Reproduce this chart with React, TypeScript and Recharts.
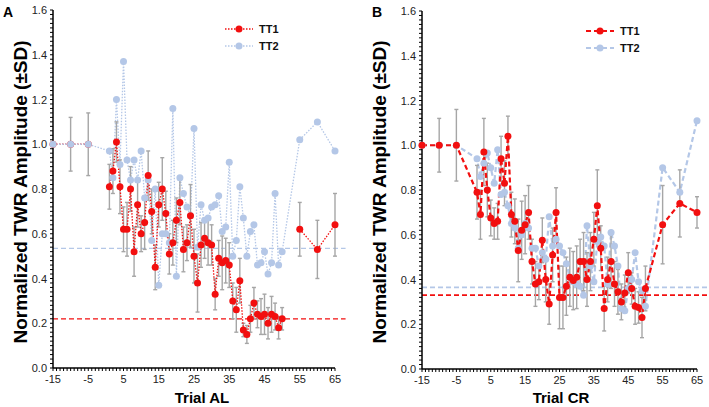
import React from 'react';
import { LineChart, Line, XAxis, YAxis, ErrorBar, ReferenceLine } from 'recharts';

const FONT = '"Liberation Sans", Arial, Helvetica, sans-serif';
const RED = '#f20f0f';
const BLUE = '#b4c7e7';
const BAR = '#a6a6a6';

// trial numbers (shared by both panels)
const trials = [
  -15, -10, -5,
  1, 2, 3, 4, 5, 6, 7, 8, 9, 10,
  11, 12, 13, 14, 15, 16, 17, 18, 19, 20,
  21, 22, 23, 24, 25, 26, 27, 28, 29, 30,
  31, 32, 33, 34, 35, 36, 37, 38, 39, 40,
  41, 42, 43, 44, 45, 46, 47, 48, 49, 50,
  55, 60, 65,
];

// panel A - trial AL
const alTT1 = [
  1.0, 1.0, 1.0,
  0.81, 0.88, 1.01, 0.81, 0.62, 0.62, 0.80, 0.52, 0.73, 0.60,
  0.65, 0.86, 0.70, 0.45, 0.73, 0.80, 0.69, 0.51, 0.56, 0.66,
  0.74, 0.53, 0.56, 0.68, 0.50, 0.38, 0.55, 0.58, 0.56, 0.55,
  0.33, 0.49, 0.47, 0.48, 0.46, 0.30, 0.26, 0.39, 0.17, 0.15,
  0.22, 0.29, 0.24, 0.23, 0.24, 0.20, 0.24, 0.23, 0.18, 0.22,
  0.62, 0.53, 0.64,
];
const alSD1 = [
  0, 0.12, 0.14,
  0.10, 0.10, 0.09, 0.12, 0.10, 0.12, 0.10, 0.11, 0.10, 0.08,
  0.12, 0.11, 0.10, 0.10, 0.10, 0.14, 0.10, 0.09, 0.10, 0.10,
  0.10, 0.10, 0.08, 0.14, 0.12, 0.13, 0.10, 0.09, 0.10, 0.09,
  0.07, 0.08, 0.12, 0.10, 0.10, 0.08, 0.10, 0.10, 0.03, 0.04,
  0.06, 0.07, 0.06, 0.08, 0.09, 0.07, 0.08, 0.06, 0.05, 0.05,
  0.12, 0.13, 0.14,
];
const alTT2 = [
  1.0, 1.0, 1.0,
  0.97, 0.85, 1.20, 0.91, 1.37, 0.93, 0.84, 0.93, 0.84, 0.97,
  0.76, 0.84, 0.57, 0.80, 0.37, 0.60, 0.60, 0.56, 1.16, 0.41,
  0.85, 0.78, 0.72, 0.68, 1.07, 0.54, 0.73, 0.66, 0.67, 0.72,
  0.73, 0.77, 0.61, 0.63, 0.92, 0.50, 0.57, 0.81, 0.67, 0.50,
  0.61, 0.64, 0.46, 0.47, 0.52, 0.42, 0.47, 0.78, 0.46, 0.52,
  1.02, 1.10, 0.97,
];
// TT1 line is broken before trial 1 and before trial 55 in panel A
const alTT1Breaks = [3, 53];
const alBaseTT1 = 0.22;
const alBaseTT2 = 0.535;

// panel B - trial CR
const crTT1 = [
  1.0, 1.0, 1.0,
  0.79, 0.69, 0.97, 0.80, 0.675, 0.65, 0.66, 0.94, 0.83, 1.04,
  0.69, 0.66, 0.53, 0.62, 0.645, 0.70, 0.48, 0.38, 0.39, 0.575,
  0.40, 0.29, 0.51, 0.70, 0.32, 0.32, 0.37, 0.41, 0.395, 0.41,
  0.48, 0.48, 0.40, 0.48, 0.58, 0.73, 0.54, 0.27, 0.40, 0.48,
  0.38, 0.345, 0.30, 0.34, 0.43, 0.36, 0.28, 0.275, 0.23, 0.36,
  0.645, 0.74, 0.70,
];
const crSD1 = [
  0, 0.12, 0.16,
  0.12, 0.11, 0.15, 0.12, 0.08, 0.07, 0.08, 0.10, 0.10, 0.09,
  0.10, 0.10, 0.14, 0.13, 0.13, 0.12, 0.10, 0.10, 0.08, 0.10,
  0.10, 0.09, 0.12, 0.11, 0.14, 0.14, 0.13, 0.13, 0.13, 0.14,
  0.10, 0.13, 0.12, 0.13, 0.12, 0.16, 0.10, 0.10, 0.10, 0.12,
  0.10, 0.10, 0.08, 0.08, 0.09, 0.07, 0.08, 0.07, 0.09, 0.10,
  0.175, 0.15, 0.07,
];
const crTT2 = [
  1.0, 1.0, 1.0,
  0.94, 0.86, 0.92, 0.965, 0.90, 0.83, 0.98, 0.78, 0.79, 0.73,
  0.65, 0.63, 0.54, 0.60, 0.65, 0.63, 0.54, 0.54, 0.46, 0.52,
  0.49, 0.68, 0.55, 0.58, 0.55, 0.52, 0.47, 0.41, 0.39, 0.38,
  0.37, 0.33, 0.64, 0.46, 0.39, 0.57, 0.59, 0.55, 0.38, 0.61,
  0.55, 0.46, 0.27, 0.26, 0.36, 0.40, 0.52, 0.39, 0.35, 0.28,
  0.90, 0.79, 1.11,
];
const crTT1Breaks: number[] = [];
const crBaseTT1 = 0.33;
const crBaseTT2 = 0.365;

const xMajor = [-15, -5, 5, 15, 25, 35, 45, 55, 65];
const yMajor = ['0.0', '0.2', '0.4', '0.6', '0.8', '1.0', '1.2', '1.4', '1.6'];

// minor ticks: every trial on x, every 0.02 on y
const xTicks: number[] = [];
for (let t = -15; t <= 65; t++) xTicks.push(t);
const yTicks: number[] = [];
for (let i = 0; i <= 80; i++) yTicks.push(Math.round(i * 2) / 100);

function XTick(props: any) {
  const { x, y, payload } = props;
  if (!xMajor.includes(payload.value)) return <g />;
  return (
    <text x={x} y={y + 10} textAnchor="middle" fontSize={11} fill="#222" fontFamily={FONT}>
      {payload.value}
    </text>
  );
}

function YTick(props: any) {
  const { x, y, payload } = props;
  const label = payload.value.toFixed(1);
  if (Math.round(payload.value * 100) % 20 !== 0 || !yMajor.includes(label)) return <g />;
  return (
    <text x={x - 1} y={y + 4} textAnchor="end" fontSize={11} fill="#222" fontFamily={FONT}>
      {label}
    </text>
  );
}

interface PanelProps {
  t1: number[];
  t2: number[];
  sd: number[];
  breaks: number[];
  base1: number;
  base2: number;
  style: 'dotted' | 'dashed';
  width: number;
  axisW: number;
  right: number;
  top: number;
  bottomH: number;
  lineEnd: number;
}

function Panel({ t1, t2, sd, breaks, base1, base2, style, width, axisW, right, top, bottomH, lineEnd }: PanelProps) {
  const nSeg = breaks.length + 1;
  const data = trials.map((trial, i) => {
    const seg = breaks.filter((b) => i >= b).length;
    const row: Record<string, number | null> = { trial, tt2: t2[i] };
    for (let s = 0; s < nSeg; s++) {
      row[`r${s}`] = s === seg ? t1[i] : null;
      row[`e${s}`] = s === seg ? sd[i] : null;
    }
    return row;
  });
  const segs = Array.from({ length: nSeg }, (_, s) => s);
  const dash = style === 'dotted' ? '1.5 1.5' : '5 3';
  const sw = style === 'dotted' ? 1.3 : 2.2;
  const baseW = style === 'dotted' ? 1.2 : 1.6;

  const redLine = (s: number) => (
    <Line
      key={`r${s}`}
      dataKey={`r${s}`}
      stroke={RED}
      strokeWidth={sw}
      strokeDasharray={dash}
      dot={{ r: 3.5, fill: RED, stroke: 'none' }}
      activeDot={false}
      isAnimationActive={false}
    >
      <ErrorBar dataKey={`e${s}`} direction="y" width={2} stroke={BAR} strokeWidth={1.4} isAnimationActive={false} />
    </Line>
  );

  return (
    <LineChart width={width} height={407} data={data} margin={{ top, right, left: 0, bottom: 0 }}>
      <XAxis
        dataKey="trial"
        type="number"
        domain={[-15, 65]}
        ticks={xTicks}
        interval={0}
        tickSize={3}
        height={bottomH}
        axisLine={{ stroke: '#000', strokeWidth: 1.5 }}
        tickLine={{ stroke: '#000' }}
        tick={XTick}
      />
      <YAxis
        type="number"
        domain={[0, 1.6]}
        ticks={yTicks}
        interval={0}
        tickSize={3}
        width={axisW}
        axisLine={{ stroke: '#000', strokeWidth: 1.5 }}
        tickLine={{ stroke: '#000' }}
        tick={YTick}
      />
      <ReferenceLine
        segment={[{ x: -15, y: base2 }, { x: lineEnd, y: base2 }]}
        stroke={BLUE}
        strokeWidth={baseW}
        strokeDasharray="5 3"
        ifOverflow="visible"
      />
      <ReferenceLine
        segment={[{ x: -15, y: base1 }, { x: lineEnd, y: base1 }]}
        stroke={RED}
        strokeWidth={baseW}
        strokeDasharray="5 3"
        ifOverflow="visible"
      />
      {nSeg > 1 && redLine(0)}
      <Line
        dataKey="tt2"
        stroke={BLUE}
        strokeWidth={sw}
        strokeDasharray={dash}
        dot={{ r: 3.5, fill: BLUE, stroke: 'none' }}
        activeDot={false}
        isAnimationActive={false}
      />
      {segs.filter((s) => nSeg === 1 || s > 0).map((s) => redLine(s))}
    </LineChart>
  );
}

function LegendKey({ left, top, style }: { left: number; top: number; style: 'dotted' | 'dashed' }) {
  const dash = style === 'dotted' ? '1.5 1.5' : '5 3';
  const sw = style === 'dotted' ? 1.3 : 2.2;
  const rows = [
    { name: 'TT1', color: RED },
    { name: 'TT2', color: BLUE },
  ];
  return (
    <div style={{ position: 'absolute', left, top }}>
      {rows.map((r) => (
        <div key={r.name} style={{ display: 'flex', alignItems: 'center', height: 17 }}>
          <svg width={28} height={10}>
            <line x1={0} y1={5} x2={28} y2={5} stroke={r.color} strokeWidth={sw} strokeDasharray={dash} />
            <circle cx={14} cy={5} r={3.5} fill={r.color} />
          </svg>
          <span style={{ marginLeft: 6, fontSize: 11, fontWeight: 'bold', color: '#111', fontFamily: FONT }}>{r.name}</span>
        </div>
      ))}
    </div>
  );
}

const yTitle = 'Normalized TWR Amplitude (±SD)';

function YTitle({ cx, cy }: { cx: number; cy: number }) {
  return (
    <div
      style={{
        position: 'absolute',
        left: cx - 170,
        top: cy - 11,
        width: 340,
        height: 22,
        lineHeight: '22px',
        textAlign: 'center',
        fontSize: 19,
        fontWeight: 'bold',
        fontFamily: FONT,
        color: '#000',
        transform: 'rotate(-90deg)',
        whiteSpace: 'nowrap',
      }}
    >
      {yTitle}
    </div>
  );
}

function Title({ text, cx, top }: { text: string; cx: number; top: number }) {
  return (
    <div
      style={{
        position: 'absolute',
        left: cx - 60,
        top,
        width: 120,
        textAlign: 'center',
        fontSize: 15,
        lineHeight: '18px',
        fontWeight: 'bold',
        fontFamily: FONT,
        color: '#000',
      }}
    >
      {text}
    </div>
  );
}

export default function App() {
  const letter: React.CSSProperties = {
    position: 'absolute',
    fontSize: 14,
    fontWeight: 'bold',
    fontFamily: FONT,
    lineHeight: '16px',
  };
  return (
    <div style={{ position: 'absolute', left: 0, top: 0, width: 709, height: 407, background: '#fff', overflow: 'hidden' }}>
      <div style={{ position: 'absolute', left: 0, top: 0 }}>
        <Panel
          t1={alTT1}
          t2={alTT2}
          sd={alSD1}
          breaks={alTT1Breaks}
          base1={alBaseTT1}
          base2={alBaseTT2}
          style="dotted"
          width={360}
          axisW={53}
          right={25}
          top={10}
          bottomH={39}
          lineEnd={68}
        />
      </div>
      <div style={{ position: 'absolute', left: 360, top: 0 }}>
        <Panel
          t1={crTT1}
          t2={crTT2}
          sd={crSD1}
          breaks={crTT1Breaks}
          base1={crBaseTT1}
          base2={crBaseTT2}
          style="dashed"
          width={349}
          axisW={62}
          right={12}
          top={11}
          bottomH={38}
          lineEnd={68.5}
        />
      </div>
      <YTitle cx={20.5} cy={192} />
      <YTitle cx={380} cy={192} />
      <Title text="Trial AL" cx={202} top={389} />
      <Title text="Trial CR" cx={561} top={389} />
      <LegendKey left={225} top={20} style="dotted" />
      <LegendKey left={586} top={22} style="dashed" />
      <div style={{ ...letter, left: 3, top: 4 }}>A</div>
      <div style={{ ...letter, left: 372, top: 4 }}>B</div>
    </div>
  );
}
